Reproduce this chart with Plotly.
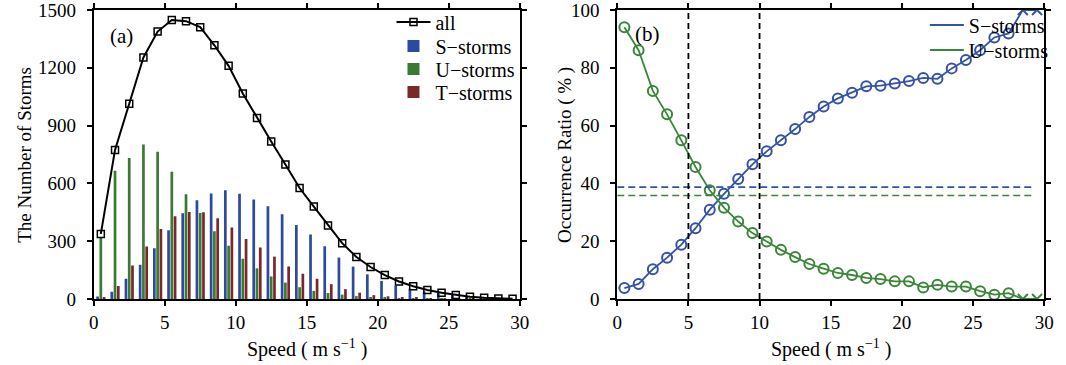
import plotly.graph_objects as go

# ---------------- data ----------------
speed = [0.5 + i for i in range(30)]

all_storms = [338, 774, 1013, 1254, 1388, 1448, 1442, 1411, 1317, 1210, 1067, 940, 818, 698, 576,
              480, 382, 290, 218, 166, 124, 91, 66, 47, 33, 21, 12, 7, 3, 1]
s_storms = [13, 38, 105, 178, 263, 357, 445, 513, 548, 565, 546, 516, 481, 440, 384,
            335, 274, 215, 168, 128, 94, 70, 54, 38, 30, 21, 11, 6, 3, 1]
u_storms = [320, 666, 732, 802, 764, 661, 544, 446, 351, 277, 209, 159, 117, 85, 61,
            42, 31, 23, 15, 10, 7, 4, 3, 2, 1.4, 0.6, 0.2, 0.15, 0, 0]
t_storms = [7, 68, 174, 272, 363, 429, 452, 450, 419, 371, 312, 267, 220, 169, 131,
            105, 77, 51, 33, 20, 14, 10, 7, 5, 3, 1.5, 0.8, 0.5, 0, 0]

s_ratio = [3.8, 5.2, 10.3, 14.3, 18.8, 24.5, 30.9, 36.4, 41.5, 46.6, 51.1, 54.9, 58.8, 63.0, 66.6,
           69.4, 71.4, 73.6, 73.8, 74.6, 75.4, 76.5, 76.2, 79.8, 82.7, 86.1, 90.5, 91.9, 100, 100]
u_ratio = [94.0, 86.1, 72.0, 63.9, 54.9, 45.7, 37.6, 31.6, 26.8, 22.8, 19.9, 17.0, 14.5, 12.1, 10.5,
           9.0, 8.3, 7.3, 6.9, 6.1, 6.1, 4.0, 4.9, 4.3, 4.3, 2.7, 1.5, 2.0, 0, 0]

s_mean_ratio = 38.7
u_mean_ratio = 35.8
speed_marks = [5, 10]

x_ticks = [0, 5, 10, 15, 20, 25, 30]
left_y_ticks = [0, 300, 600, 900, 1200, 1500]
right_y_ticks = [0, 20, 40, 60, 80, 100]

# ---------------- style ----------------
FONT = "Liberation Serif, Times New Roman, serif"
BLUE_BAR = "#2c4b9e"
GREEN_BAR = "#3b7a34"
RED_BAR = "#7a2828"
BLUE_LINE = "#3352a8"
GREEN_LINE = "#3a873a"

W, H = 1066, 365
ML, MR, MT, MB = 0, 0, 10, 66
PH = H - MT - MB


def px_x(p):
    return p / W


def px_y(p):
    return (H - MB - p) / PH


fig = go.Figure()

# ---- panel (a) ----
fig.add_trace(go.Scatter(x=speed, y=all_storms, name="all", mode="lines+markers",
                         line=dict(color="black", width=2),
                         marker=dict(symbol="square-open", size=7, color="black", line=dict(width=1.5)),
                         xaxis="x", yaxis="y", legend="legend"))
fig.add_trace(go.Bar(x=speed, y=s_storms, name="S−storms", marker=dict(color=BLUE_BAR, line_width=0),
                     xaxis="x", yaxis="y", legend="legend3"))
fig.add_trace(go.Bar(x=speed, y=u_storms, name="U−storms", marker=dict(color=GREEN_BAR, line_width=0),
                     xaxis="x", yaxis="y", legend="legend4"))
fig.add_trace(go.Bar(x=speed, y=t_storms, name="T−storms", marker=dict(color=RED_BAR, line_width=0),
                     xaxis="x", yaxis="y", legend="legend5"))

# ---- panel (b) ----
sym = ["circle-open"] * 28 + ["x-thin-open"] * 2
fig.add_trace(go.Scatter(x=speed, y=s_ratio, name="S−storms", mode="lines+markers",
                         line=dict(color=BLUE_LINE, width=1.8),
                         marker=dict(symbol=sym, size=10, color=BLUE_LINE, line=dict(width=2, color=BLUE_LINE)),
                         xaxis="x2", yaxis="y2", showlegend=False))
fig.add_trace(go.Scatter(x=speed, y=u_ratio, name="U−storms", mode="lines+markers",
                         line=dict(color=GREEN_LINE, width=1.8),
                         marker=dict(symbol=sym, size=10, color=GREEN_LINE, line=dict(width=2, color=GREEN_LINE)),
                         xaxis="x2", yaxis="y2", showlegend=False))
# legend-only entries (line symbol only, as in the reference)
fig.add_trace(go.Scatter(x=[None], y=[None], name="S−storms", mode="lines",
                         line=dict(color=BLUE_LINE, width=2), xaxis="x2", yaxis="y2", legend="legend2"))
fig.add_trace(go.Scatter(x=[None], y=[None], name="U−storms", mode="lines",
                         line=dict(color=GREEN_LINE, width=2), xaxis="x2", yaxis="y2", legend="legend6"))

fig.add_trace(go.Scatter(x=[0, 29.3], y=[s_mean_ratio, s_mean_ratio], mode="lines",
                         line=dict(color=BLUE_LINE, width=1.6, dash="7px,4px"),
                         showlegend=False, xaxis="x2", yaxis="y2"))
fig.add_trace(go.Scatter(x=[0, 29.3], y=[u_mean_ratio, u_mean_ratio], mode="lines",
                         line=dict(color=GREEN_LINE, width=1.6, dash="7px,4px"),
                         showlegend=False, xaxis="x2", yaxis="y2"))
for s in speed_marks:
    fig.add_trace(go.Scatter(x=[s, s], y=[0, 100], mode="lines",
                             line=dict(color="black", width=1.8, dash="6px,4px"),
                             showlegend=False, xaxis="x2", yaxis="y2"))

TICK_FONT = dict(family=FONT, size=19, color="black")
axis_common = dict(showline=True, linecolor="black", linewidth=2, mirror="ticks",
                   ticks="outside", ticklen=5, tickwidth=1.5, tickcolor="black",
                   showgrid=False, zeroline=False, tickfont=TICK_FONT,
                   ticklabeloverflow="allow")

LEG_FONT = dict(family=FONT, size=20, color="black")


def leg(xp, yp):
    return dict(x=px_x(xp), y=px_y(yp), xanchor="left", yanchor="middle",
                bgcolor="rgba(0,0,0,0)", font=LEG_FONT, itemwidth=34,
                borderwidth=0)


fig.update_layout(
    width=W, height=H,
    margin=dict(l=ML, r=MR, t=MT, b=MB),
    paper_bgcolor="white", plot_bgcolor="white",
    font=dict(family=FONT, size=18, color="black"),
    barmode="group", bargap=0.31, bargroupgap=0.17,
    xaxis=dict(domain=[px_x(90), px_x(522)], range=[0, 30], tickvals=x_ticks, anchor="y", **axis_common),
    yaxis=dict(domain=[0, 1], range=[0, 1500], tickvals=left_y_ticks, anchor="x",
               ticklabelstandoff=7, **axis_common),
    xaxis2=dict(domain=[px_x(621), px_x(1054)], range=[0, 30], tickvals=x_ticks, anchor="y2", **axis_common),
    yaxis2=dict(domain=[0, 1], range=[0, 100], tickvals=right_y_ticks, anchor="x2",
                ticklabelstandoff=7, **axis_common),
    legend=leg(392, 22),
    legend3=leg(392, 46),
    legend4=leg(392, 69),
    legend5=leg(392, 92),
    legend2=leg(933, 25),
    legend6=leg(933, 50),
    showlegend=True,
)

ann_font = dict(family=FONT, size=20, color="black")
ylab_font = dict(family=FONT, size=19, color="black")
common_ann = dict(xref="paper", yref="paper", showarrow=False, xanchor="center", yanchor="middle")
fig.add_annotation(text="(a)", x=px_x(118), y=px_y(36), font=dict(family=FONT, size=21, color="black"), **common_ann)
fig.add_annotation(text="(b)", x=px_x(652), y=px_y(34), font=dict(family=FONT, size=21, color="black"), **common_ann)
fig.add_annotation(text="Speed ( m s<sup>−1</sup> )", x=px_x(306), y=px_y(348), font=ann_font, **common_ann)
fig.add_annotation(text="Speed ( m s<sup>−1</sup> )", x=px_x(838), y=px_y(348), font=ann_font, **common_ann)
fig.add_annotation(text="The Number of Storms", x=px_x(19), y=px_y(155), font=ylab_font, textangle=-90, **common_ann)
fig.add_annotation(text="Occurrence Ratio ( % )", x=px_x(568), y=px_y(155), font=ylab_font, textangle=-90, **common_ann)

fig.write_html("out.html", config={"displayModeBar": False},
               post_script="document.body.style.margin='0px';document.body.style.overflow='hidden';")
